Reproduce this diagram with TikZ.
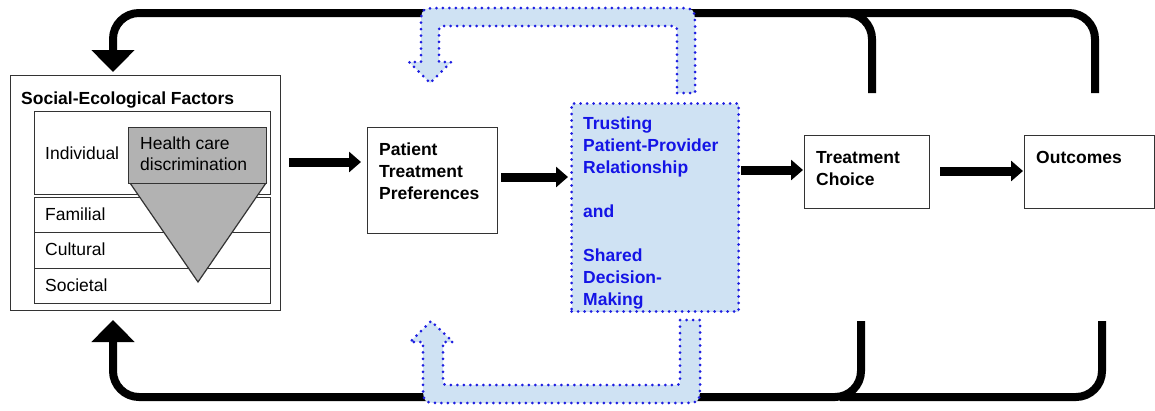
\documentclass[tikz,border=0pt]{standalone}
\usepackage{fontspec}
\setmainfont{Liberation Sans}
\usetikzlibrary{arrows.meta}
\definecolor{bandblue}{RGB}{207,226,243}
\definecolor{dotblue}{RGB}{30,30,225}
\definecolor{txtblue}{RGB}{20,20,230}
\definecolor{hcgray}{RGB}{178,178,178}
\begin{document}
\begin{tikzpicture}[x=1pt,y=-1pt,
  box/.style={draw=black!80, line width=1.2pt, fill=white, inner sep=0pt, anchor=north west},
  lbl/.style={inner sep=0pt, anchor=north west, align=left, font=\fontsize{17.5}{22}\selectfont},
  blbl/.style={lbl, font=\fontsize{17.5}{22}\selectfont\bfseries},
  flow/.style={line width=9pt, -{Triangle[width=20pt,length=12pt]}},
  loopline/.style={line width=8pt, rounded corners=26pt},
  looparrow/.style={loopline, -{Triangle[width=42pt,length=22pt]}},
  dotborder/.style={draw=dotblue, line width=3pt, line cap=round, dash pattern=on 0pt off 6.5pt},
  band/.style={dotborder, fill=bandblue}
]
\useasboundingbox (0,0) rectangle (1155,410);

% feedback loops (black)
\coordinate (tl1) at (872,93);
\coordinate (tl2) at (1095,93);
\coordinate (bl1) at (861,321);
\coordinate (bl2) at (1102,321);
\coordinate (sefin1) at (113,72);
\coordinate (sefin2) at (113,320);
\coordinate (tm) at (840,13);
\coordinate (bm) at (840,397);
\draw[looparrow] (tl1) -- (872,13) -- (113,13) -- (sefin1);
\draw[loopline] (tl2) -- (1095,13) -- (tm);
\draw[looparrow] (bl1) -- (861,397) -- (113,397) -- (sefin2);
\draw[loopline] (bl2) -- (1102,397) -- (bm);

% blue band arrows
\draw[band] (677,93) -- (695,93) -- (695,28) .. controls (695,8) .. (675,8) -- (441,8)
  .. controls (421,8) .. (421,28) -- (421,62) -- (409,62) -- (430,83) -- (451,62) -- (439,62)
  -- (439,33) .. controls (439,26) .. (446,26) -- (670,26) .. controls (677,26) .. (677,33) -- cycle;
\draw[band] (680,320) -- (700,320) -- (700,383) .. controls (700,403) .. (680,403) -- (443,403)
  .. controls (423,403) .. (423,383) -- (423,342) -- (410,342) -- (431,321) -- (453,342) -- (443,342)
  -- (443,378) .. controls (443,385) .. (450,385) -- (673,385) .. controls (680,385) .. (680,378) -- cycle;

% social-ecological factors
\node[box, minimum width=270pt, minimum height=235pt] (sef) at (10,75) {};
\node[blbl] (seft) at (21,92) {Social-Ecological Factors};
\node[box, minimum width=236pt, minimum height=83pt] (ind) at (34,111) {};
\node[box, minimum width=236pt, minimum height=35pt] (fam) at (34,197) {};
\node[box, minimum width=236pt, minimum height=36pt] (cul) at (34,232) {};
\node[box, minimum width=236pt, minimum height=35pt] (soc) at (34,268) {};
\node[lbl] (indt) at (45,147) {Individual};
\node[lbl] (famt) at (45,208) {Familial};
\node[lbl] (cult) at (45,243) {Cultural};
\node[lbl] (soct) at (45,279) {Societal};
\filldraw[fill=hcgray, draw=black!80, line width=1.2pt] (130,183) -- (266,183) -- (198,282) -- cycle;
\node[box, fill=hcgray, minimum width=138pt, minimum height=56pt] (hc) at (128,127) {};
\node[lbl, font=\fontsize{17.5}{21}\selectfont] (hct) at (140,137) {Health care\\discrimination};

% main boxes
\node[box, minimum width=130pt, minimum height=106pt] (ptp) at (367,127) {};
\node[blbl] (ptpt) at (379,143) {Patient\\Treatment\\Preferences};
\node[box, band, minimum width=167pt, minimum height=208pt] (tsd) at (570,102) {};
\node[blbl, text=txtblue] (tsdt) at (583,117) {Trusting\\Patient-Provider\\Relationship\\[22pt]and\\[22pt]Shared\\Decision-\\Making};
\node[box, minimum width=125pt, minimum height=73pt] (tc) at (804,135) {};
\node[blbl] (tct) at (816,151) {Treatment\\Choice};
\node[box, minimum width=130pt, minimum height=73pt] (out) at (1024,135) {};
\node[blbl] (outt) at (1036,151) {Outcomes};

% forward arrows
\coordinate (r1) at (0,162);
\coordinate (r2) at (0,177);
\coordinate (r3) at (0,170);
\coordinate (r4) at (0,171);
\draw[flow, shorten <=8pt, shorten >=6pt] (sef.east |- r1) -- (ptp.west |- r1);
\draw[flow, shorten <=3pt, shorten >=2pt] (ptp.east |- r2) -- (tsd.west |- r2);
\draw[flow, shorten <=1pt, shorten >=1pt] (tsd.east |- r3) -- (tc.west |- r3);
\draw[flow, shorten <=10pt, shorten >=1pt] (tc.east |- r4) -- (out.west |- r4);
\end{tikzpicture}
\end{document}
